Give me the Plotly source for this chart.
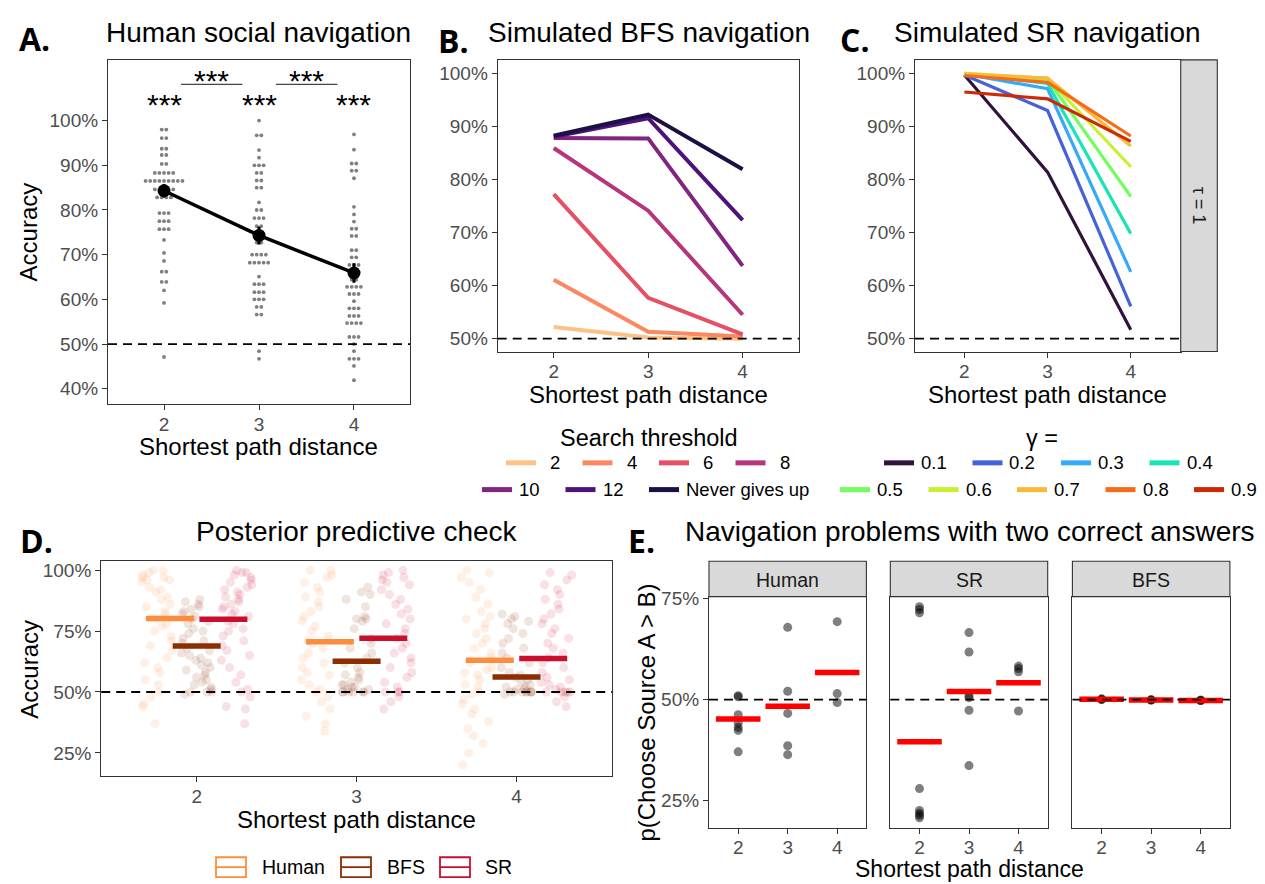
import plotly.graph_objects as go

W, H = 1265, 884
FONT = "Liberation Sans, Arial, Helvetica, sans-serif"
BOLD_FONT = "Open Sans, Liberation Sans, Arial, sans-serif"
TICK_COL = "#4D4D4D"
FRAME_COL = "#333333"


def px(x):
    return x / W


def py(y):
    return 1 - y / H


# ---------------------------------------------------------------- data
DIST = [2, 3, 4]
CHANCE = 50

# Panel A: human accuracies (dot-plot bins, % correct) and their counts
A2_VALUES = [98.0, 96.1, 93.7, 92.3, 90.3, 88.3, 86.5, 84.6, 82.8, 79.3, 77.5, 75.7,
             73.3, 70.4, 68.6, 66.2, 63.9, 62.0, 59.2, 47.1]
A2_COUNTS = [2, 2, 2, 2, 2, 5, 9, 5, 4, 3, 3, 3, 1, 1, 1, 2, 2, 1, 1, 1]
A3_VALUES = [100.0, 96.7, 93.4, 91.7, 90.0, 88.3, 86.6, 85.0, 81.7, 80.0, 78.2, 76.4,
             74.6, 72.7, 70.0, 68.2, 65.1, 63.4, 61.6, 60.0, 58.3, 56.6, 48.4, 46.7]
A3_COUNTS = [1, 2, 1, 1, 3, 2, 2, 2, 1, 2, 3, 2, 3, 2, 4, 5, 1, 3, 3, 3, 2, 2, 1, 1]
A4_VALUES = [96.9, 93.5, 90.4, 88.8, 87.1, 80.7, 79.0, 77.4, 75.8, 74.2, 71.0, 69.4,
             67.7, 66.1, 64.4, 62.8, 61.2, 59.6, 58.0, 56.3, 54.7, 51.6, 50.0, 48.4,
             46.7, 45.1, 41.9]
A4_COUNTS = [1, 1, 2, 2, 1, 1, 1, 1, 2, 2, 2, 2, 3, 3, 2, 4, 3, 1, 3, 3, 4, 3, 1, 1, 3, 1, 1]
A_MEAN = [84.3, 74.3, 65.9]
A_SE = [1.5, 2.0, 2.2]
A_STARS = ["***", "***", "***"]
A_PAIRS = [(2, 3), (3, 4)]
A_PAIR_STARS = ["***", "***"]

# Panel B: simulated BFS accuracy by search threshold
THRESH_LABELS = ["2", "4", "6", "8", "10", "12", "Never gives up"]
BFS_T2 = [52.2, 50.2, 50.0]
BFS_T4 = [61.1, 51.3, 50.4]
BFS_T6 = [77.2, 57.7, 50.8]
BFS_T8 = [85.9, 74.1, 54.5]
BFS_T10 = [87.8, 87.7, 63.7]
BFS_T12 = [88.0, 91.5, 72.3]
BFS_TNEVER = [88.2, 92.2, 81.9]
BFS_SERIES = [BFS_T2, BFS_T4, BFS_T6, BFS_T8, BFS_T10, BFS_T12, BFS_TNEVER]
THRESH_COLORS = ["#FEC287", "#FB8861", "#E55064", "#B5367A", "#812581", "#4F127B", "#1C1044"]

# Panel C: simulated SR accuracy by gamma
GAMMA_LABELS = ["0.1", "0.2", "0.3", "0.4", "0.5", "0.6", "0.7", "0.8", "0.9"]
SR_G1 = [99.7, 81.4, 51.7]
SR_G2 = [99.7, 93.0, 56.1]
SR_G3 = [99.9, 97.1, 62.6]
SR_G4 = [100.0, 98.1, 69.8]
SR_G5 = [100.0, 98.9, 76.8]
SR_G6 = [100.0, 99.1, 82.4]
SR_G7 = [99.9, 99.1, 86.3]
SR_G8 = [99.6, 98.3, 88.2]
SR_G9 = [96.5, 95.2, 87.2]
SR_SERIES = [SR_G1, SR_G2, SR_G3, SR_G4, SR_G5, SR_G6, SR_G7, SR_G8, SR_G9]
GAMMA_COLORS = ["#30123B", "#4662D7", "#36AAF9", "#1AE4B6", "#72FE5E", "#C7EF34",
                "#FABA39", "#F66B19", "#CB2A04"]

# Panel D: posterior predictive check
PPC_GROUPS = ["Human", "BFS", "SR"]
PPC_COLORS = ["#FD8D3C", "#8C2D04", "#C8102E"]
PPC_RGB = ["253,141,60", "140,45,4", "200,16,46"]
PPC_MEAN_HUMAN = [80.2, 70.6, 63.0]
PPC_MEAN_BFS = [68.9, 62.6, 56.2]
PPC_MEAN_SR = [79.9, 72.1, 63.7]
PPC_HUMAN_D2 = [100, 100, 99, 98, 97, 97, 96, 96, 95, 93, 92, 91, 89, 88, 86, 85, 83, 82,
                80, 78, 77, 75, 73, 71, 69, 67, 64, 62, 60, 58, 55, 53, 50, 48, 45, 44, 37]
PPC_HUMAN_D3 = [100, 100, 98, 97, 95, 93, 91, 89, 87, 85, 83, 81, 79, 77, 75, 73, 71, 70,
                68, 66, 64, 62, 60, 58, 57, 55, 53, 51, 50, 48, 46, 43, 40, 37, 34]
PPC_HUMAN_D4 = [100, 99, 97, 95, 92, 89, 86, 83, 81, 80, 78, 76, 74, 72, 70, 68, 66, 64,
                62, 60, 59, 58, 57, 55, 53, 52, 50, 49, 47, 45, 43, 41, 38, 35, 32, 29, 25, 20]
PPC_BFS_D2 = [88, 87, 86, 85, 84, 83, 82, 81, 80, 79, 78, 76, 75, 74, 72, 71, 70, 68, 67,
              66, 65, 64, 63, 62, 61, 60, 59, 58, 57, 56, 55, 54, 53, 52, 51, 50, 50, 50, 49]
PPC_BFS_D3 = [93, 91, 90, 88, 85, 81, 80, 80, 79, 76, 72, 70, 68, 66, 64, 62, 60, 58, 57,
              56, 55, 54, 53, 53, 52, 52, 51, 51, 50, 50, 50, 50, 50, 50]
PPC_BFS_D4 = [82, 81, 80, 79, 78, 76, 74, 72, 70, 68, 66, 64, 62, 60, 58, 57, 56, 55, 54,
              53, 52, 52, 51, 51, 50, 50, 50, 50, 50, 50, 50, 50, 49]
PPC_SR_D2 = [100, 99, 99, 98, 97, 96, 95, 94, 93, 92, 91, 90, 89, 88, 87, 86, 85, 84, 83,
             82, 81, 79, 78, 76, 75, 73, 71, 69, 67, 65, 63, 60, 57, 54, 51, 50, 48, 44, 43, 37]
PPC_SR_D3 = [100, 99, 98, 97, 96, 95, 94, 92, 90, 88, 86, 84, 82, 80, 78, 76, 74, 72, 70,
             68, 66, 64, 62, 60, 58, 56, 54, 52, 50, 50, 50, 48, 46, 43]
PPC_SR_D4 = [99, 98, 96, 94, 92, 90, 88, 86, 84, 82, 80, 78, 76, 74, 72, 70, 68, 66, 64,
             62, 60, 58, 56, 55, 54, 53, 52, 51, 50, 50, 50, 50, 50, 48, 46, 44]
PPC_POINTS = {
    "Human": [PPC_HUMAN_D2, PPC_HUMAN_D3, PPC_HUMAN_D4],
    "BFS": [PPC_BFS_D2, PPC_BFS_D3, PPC_BFS_D4],
    "SR": [PPC_SR_D2, PPC_SR_D3, PPC_SR_D4],
}
PPC_MEANS = {"Human": PPC_MEAN_HUMAN, "BFS": PPC_MEAN_BFS, "SR": PPC_MEAN_SR}

# Panel E: problems with two correct answers
E_FACETS = ["Human", "SR", "BFS"]
E_HUMAN_D2 = [51.0, 50.7, 46.3, 44.2, 43.1, 42.4, 37.1]
E_HUMAN_D3 = [67.9, 52.1, 46.6, 38.6, 36.4]
E_HUMAN_D4 = [69.3, 51.5, 49.3]
E_HUMAN_MEAN = [45.2, 48.4, 56.7]
E_SR_D2 = [73.0, 72.3, 71.5, 28.0, 22.6, 21.9, 21.4, 20.8]
E_SR_D3 = [66.6, 61.8, 51.0, 50.5, 47.4, 33.7]
E_SR_D4 = [58.3, 57.7, 56.9, 47.2]
E_SR_MEAN = [39.6, 52.0, 54.2]
E_BFS_D2 = [50.2, 50.1, 50.0]
E_BFS_D3 = [50.0, 49.9, 49.9]
E_BFS_D4 = [49.9, 49.8, 49.8]
E_BFS_MEAN = [50.1, 49.9, 49.8]
E_POINTS = {"Human": [E_HUMAN_D2, E_HUMAN_D3, E_HUMAN_D4],
            "SR": [E_SR_D2, E_SR_D3, E_SR_D4],
            "BFS": [E_BFS_D2, E_BFS_D3, E_BFS_D4]}
E_MEANS = {"Human": E_HUMAN_MEAN, "SR": E_SR_MEAN, "BFS": E_BFS_MEAN}

# --------------------------------------------------------- style/layout
DOT_STEP = 0.0485            # horizontal spacing of stacked dots (panel A)
PPC_DODGE_PTS = [-0.25, 0.0, 0.25]
PPC_DODGE_BAR = [-0.167, 0.0, 0.167]
PPC_BAR_HALF = 0.15
E_BAR_HALF = 0.45
JITTER = [-0.08, 0.05, -0.02, 0.09, -0.06, 0.02, 0.07, -0.09, 0.0, 0.04, -0.04, 0.08,
          -0.07, 0.03, -0.01, 0.06, -0.05, 0.095, -0.095, 0.01, 0.085, -0.03, 0.035,
          -0.085, 0.065, -0.045, 0.015, -0.065, 0.075, -0.015, 0.045, -0.075, 0.025,
          -0.035, 0.055, -0.055, 0.09, -0.09, 0.005, -0.005]

fig = go.Figure()

# ---- Panel A
for d, vals, cnts in zip(DIST, [A2_VALUES, A3_VALUES, A4_VALUES],
                         [A2_COUNTS, A3_COUNTS, A4_COUNTS]):
    xs, ys = [], []
    for v, c in zip(vals, cnts):
        for i in range(c):
            xs.append(d + (i - (c - 1) / 2) * DOT_STEP)
            ys.append(v)
    fig.add_trace(go.Scatter(x=xs, y=ys, mode="markers", xaxis="x", yaxis="y",
                             marker=dict(size=3.8, color="#7F7F7F"),
                             showlegend=False, hoverinfo="skip"))
fig.add_trace(go.Scatter(x=DIST, y=A_MEAN, mode="lines+markers", xaxis="x", yaxis="y",
                         line=dict(color="black", width=3.5),
                         marker=dict(size=13, color="black"),
                         error_y=dict(type="data", array=A_SE, color="black",
                                      thickness=3, width=0),
                         showlegend=False))

# ---- Panel B
for vals, col in zip(BFS_SERIES, THRESH_COLORS):
    fig.add_trace(go.Scatter(x=DIST, y=vals, mode="lines", xaxis="x2", yaxis="y2",
                             line=dict(color=col, width=4), showlegend=False))

# ---- Panel C
for vals, col in zip(SR_SERIES, GAMMA_COLORS):
    fig.add_trace(go.Scatter(x=DIST, y=vals, mode="lines", xaxis="x3", yaxis="y3",
                             line=dict(color=col, width=3.2), showlegend=False))

# ---- Panel D points
for gi, g in enumerate(PPC_GROUPS):
    xs, ys = [], []
    for d, vals in zip(DIST, PPC_POINTS[g]):
        for k, v in enumerate(vals):
            xs.append(d + PPC_DODGE_PTS[gi] + JITTER[(k * 7 + gi * 3 + d) % len(JITTER)])
            ys.append(v)
    fig.add_trace(go.Scatter(x=xs, y=ys, mode="markers", xaxis="x4", yaxis="y4",
                             marker=dict(size=9, color=f"rgba({PPC_RGB[gi]},0.13)",
                                         line=dict(width=0)),
                             showlegend=False, hoverinfo="skip"))
for gi, g in enumerate(PPC_GROUPS):
    xs, ys = [], []
    for d, m in zip(DIST, PPC_MEANS[g]):
        c = d + PPC_DODGE_BAR[gi]
        xs += [c - PPC_BAR_HALF, c + PPC_BAR_HALF, None]
        ys += [m, m, None]
    fig.add_trace(go.Scatter(x=xs, y=ys, mode="lines", xaxis="x4", yaxis="y4",
                             line=dict(color=PPC_COLORS[gi], width=5.5),
                             showlegend=False))

# ---- Panel E
for fi, f in enumerate(E_FACETS):
    xa, ya = f"x{5 + fi}", f"y{5 + fi}"
    xs, ys = [], []
    for d, vals in zip(DIST, E_POINTS[f]):
        xs += [d] * len(vals)
        ys += vals
    fig.add_trace(go.Scatter(x=xs, y=ys, mode="markers", xaxis=xa, yaxis=ya,
                             marker=dict(size=9, color="rgba(0,0,0,0.5)", line=dict(width=0)),
                             showlegend=False))
    bx, by = [], []
    for d, m in zip(DIST, E_MEANS[f]):
        bx += [d - E_BAR_HALF, d + E_BAR_HALF, None]
        by += [m, m, None]
    fig.add_trace(go.Scatter(x=bx, y=by, mode="lines", xaxis=xa, yaxis=ya,
                             line=dict(color="#FF0000", width=5.5), showlegend=False))


# ---------------------------------------------------------------- axes
def xax(dom, rng, **kw):
    d = dict(domain=[px(dom[0]), px(dom[1])], range=rng, tickvals=DIST,
             ticktext=[str(v) for v in DIST], showline=True, mirror=True,
             linecolor=FRAME_COL, linewidth=1.1, ticks="outside", ticklen=5,
             tickwidth=1.1, tickcolor=FRAME_COL, showgrid=False, zeroline=False,
             ticklabelstandoff=-2,
             tickfont=dict(family=FONT, size=19, color=TICK_COL), fixedrange=True)
    d.update(kw)
    return d


def yax(dom, rng, ticks_, **kw):
    d = dict(domain=[py(dom[1]), py(dom[0])], range=rng, tickvals=ticks_,
             ticktext=[f"{v}%" for v in ticks_], showline=True, mirror=True,
             linecolor=FRAME_COL, linewidth=1.1, ticks="outside", ticklen=5,
             tickwidth=1.1, tickcolor=FRAME_COL, showgrid=False, zeroline=False,
             tickfont=dict(family=FONT, size=19, color=TICK_COL), fixedrange=True)
    d.update(kw)
    return d


A_BOX = (108, 410, 52.3, 400)
B_BOX = (497.7, 799.3, 52.3, 346.7)
C_BOX = (915, 1180.7, 52.3, 346.7)
D_BOX = (101.2, 612, 558.3, 775)
E_BOXES = [(709, 866.4), (890.3, 1047.7), (1072.4, 1229.9)]
E_Y = (594, 827.7)
E_STRIP_Y = (558.3, 594)
C_STRIP_X = (1180.7, 1217.3)

layout_axes = dict(
    xaxis=xax(A_BOX[:2], [1.41, 4.59], anchor="y"),
    yaxis=yax(A_BOX[2:], [36.5, 113.6], [40, 50, 60, 70, 80, 90, 100], anchor="x"),
    xaxis2=xax(B_BOX[:2], [1.407, 4.6], anchor="y2"),
    yaxis2=yax(B_BOX[2:], [47.57, 102.5], [50, 60, 70, 80, 90, 100], anchor="x2"),
    xaxis3=xax(C_BOX[:2], [1.407, 4.6], anchor="y3"),
    yaxis3=yax(C_BOX[2:], [47.57, 102.56], [50, 60, 70, 80, 90, 100], anchor="x3"),
    xaxis4=xax(D_BOX[:2], [1.403, 4.597], anchor="y4"),
    yaxis4=yax(D_BOX[2:], [15.52, 103.66], [25, 50, 75, 100], anchor="x4"),
)
for fi in range(3):
    layout_axes[f"xaxis{5 + fi}"] = xax(E_BOXES[fi], [1.41, 4.59], anchor=f"y{5 + fi}",
                                        ticklabelstandoff=-3)
    extra = {} if fi == 0 else dict(showticklabels=False, ticks="")
    layout_axes[f"yaxis{5 + fi}"] = yax(E_Y, [18.21, 75.49], [25, 50, 75],
                                        anchor=f"x{5 + fi}", **extra)

# ---------------------------------------------------------------- shapes
shapes = []
DASH = "9px,6px"
for xr, yr in [("x", "y"), ("x2", "y2"), ("x3", "y3"), ("x4", "y4"),
               ("x5", "y5"), ("x6", "y6"), ("x7", "y7")]:
    shapes.append(dict(type="line", xref=f"{xr} domain", yref=yr, x0=0, x1=1,
                       y0=CHANCE, y1=CHANCE, layer="above",
                       line=dict(color="black", width=1.8, dash=DASH)))

# significance brackets in A
for (a, b) in A_PAIRS:
    shapes.append(dict(type="line", xref="x", yref="y", x0=a + 0.178, x1=b - 0.175,
                       y0=108.1, y1=108.1, line=dict(color="#444444", width=1.2)))

# strips
shapes.append(dict(type="rect", xref="paper", yref="paper", x0=px(C_STRIP_X[0]),
                   x1=px(C_STRIP_X[1]), y0=py(C_BOX[3]), y1=py(C_BOX[2]),
                   fillcolor="#D9D9D9", line=dict(color=FRAME_COL, width=1.1)))
for (x0, x1) in E_BOXES:
    shapes.append(dict(type="rect", xref="paper", yref="paper", x0=px(x0), x1=px(x1),
                       y0=py(E_STRIP_Y[1]), y1=py(E_STRIP_Y[0]),
                       fillcolor="#D9D9D9", line=dict(color=FRAME_COL, width=1.1)))

# ---------------------------------------------------------------- annotations
ann = []


def text(t, x, y, size, color="#000000", xanchor="center", yanchor="middle",
         angle=0, family=FONT, weight="normal", xref="paper", yref="paper"):
    ann.append(dict(text=t, x=x, y=y, xref=xref, yref=yref, showarrow=False,
                    xanchor=xanchor, yanchor=yanchor, textangle=angle, borderpad=0,
                    font=dict(family=family, size=size, color=color, weight=weight)))


# panel letters
for lab, x, y in [("A.", 34, 31), ("B.", 453, 33), ("C.", 855, 32),
                  ("D.", 36, 537), ("E.", 641, 537)]:
    text(lab, px(x), py(y), 32, family=BOLD_FONT, weight="bold")

# titles
text("Human social navigation", px(258.7), py(25), 28)
text("Simulated BFS navigation", px(648.5), py(25), 28)
text("Simulated SR navigation", px(1047.8), py(25), 28)
text("Posterior predictive check", px(356.6), py(528), 28)
text("Navigation problems with two correct answers", px(969.5), py(528), 28)

# axis titles
text("Accuracy", px(28.5), py(226), 24, angle=-90)
text("Shortest path distance", px(258.7), py(443), 24)
text("Shortest path distance", px(648.5), py(390.5), 24)
text("Shortest path distance", px(1047.8), py(390.5), 24)
text("Accuracy", px(30), py(666.7), 24, angle=-90)
text("Shortest path distance", px(356.6), py(819), 24)
text("p(Choose Source A &gt; B)", px(647), py(711), 24, angle=-90)
text("Shortest path distance", px(969.5), py(869), 23)

# stars in A
for d, s in zip(DIST, A_STARS):
    text(s, d, 103.6, 30, xref="x", yref="y")
for (a, b), s in zip(A_PAIRS, A_PAIR_STARS):
    text(s, (a + b) / 2, 109.0, 30, xref="x", yref="y")

# strip labels
text("τ = 1", px(sum(C_STRIP_X) / 2), py((C_BOX[2] + C_BOX[3]) / 2), 18,
     color="#1A1A1A", angle=90)
for (x0, x1), lab in zip(E_BOXES, E_FACETS):
    text(lab, px((x0 + x1) / 2), py(577), 19.5, color="#1A1A1A")

# legend: search threshold
text("Search threshold", px(648.5), py(434), 23.5)
ROW1_Y, ROW2_Y = 459, 486
b_keys = [(506, ROW1_Y, 549), (582.5, ROW1_Y, 625.5), (659, ROW1_Y, 702),
          (735.5, ROW1_Y, 778.5), (482, ROW2_Y, 518), (565.5, ROW2_Y, 601.5),
          (649, ROW2_Y, 685)]
for (kx, ky, lx), lab, col in zip(b_keys, THRESH_LABELS, THRESH_COLORS):
    shapes.append(dict(type="line", xref="paper", yref="paper", x0=px(kx),
                       x1=px(kx + 30), y0=py(ky), y1=py(ky),
                       line=dict(color=col, width=5)))
    text(lab, px(lx), py(ky), 18.5, xanchor="left")

# legend: gamma
text("γ =", px(1041.5), py(434), 23.5)
g_keys = [(884, ROW1_Y), (972.5, ROW1_Y), (1061, ROW1_Y), (1149.5, ROW1_Y),
          (840, ROW2_Y), (928.5, ROW2_Y), (1017, ROW2_Y), (1105.5, ROW2_Y), (1194, ROW2_Y)]
for (kx, ky), lab, col in zip(g_keys, GAMMA_LABELS, GAMMA_COLORS):
    shapes.append(dict(type="line", xref="paper", yref="paper", x0=px(kx),
                       x1=px(kx + 30), y0=py(ky), y1=py(ky),
                       line=dict(color=col, width=5)))
    text(lab, px(kx + 36), py(ky), 18.5, xanchor="left")

# legend: panel D
d_keys = [(216, 261), (341, 386), (440, 484)]
LEG_D_Y = 867
for (kx, lx), lab, col in zip(d_keys, PPC_GROUPS, PPC_COLORS):
    shapes.append(dict(type="rect", xref="paper", yref="paper", x0=px(kx),
                       x1=px(kx + 30), y0=py(LEG_D_Y + 10), y1=py(LEG_D_Y - 10),
                       line=dict(color=col, width=1.8), fillcolor="rgba(0,0,0,0)"))
    shapes.append(dict(type="line", xref="paper", yref="paper", x0=px(kx),
                       x1=px(kx + 30), y0=py(LEG_D_Y), y1=py(LEG_D_Y),
                       line=dict(color=col, width=1.8)))
    text(lab, px(lx), py(LEG_D_Y), 19.5, xanchor="left")

fig.update_layout(
    width=W, height=H, autosize=False,
    margin=dict(l=0, r=0, t=0, b=0),
    paper_bgcolor="white", plot_bgcolor="white",
    showlegend=False,
    font=dict(family=FONT),
    shapes=shapes, annotations=ann,
    **layout_axes,
)

POST = ("var gd=document.getElementById('{plot_id}');"
        "gd.style.position='fixed';gd.style.left='0px';gd.style.top='0px';"
        "document.body.style.margin='0';document.body.style.overflow='hidden';")
fig.write_html("out.html", config={"displayModeBar": False}, post_script=POST)
